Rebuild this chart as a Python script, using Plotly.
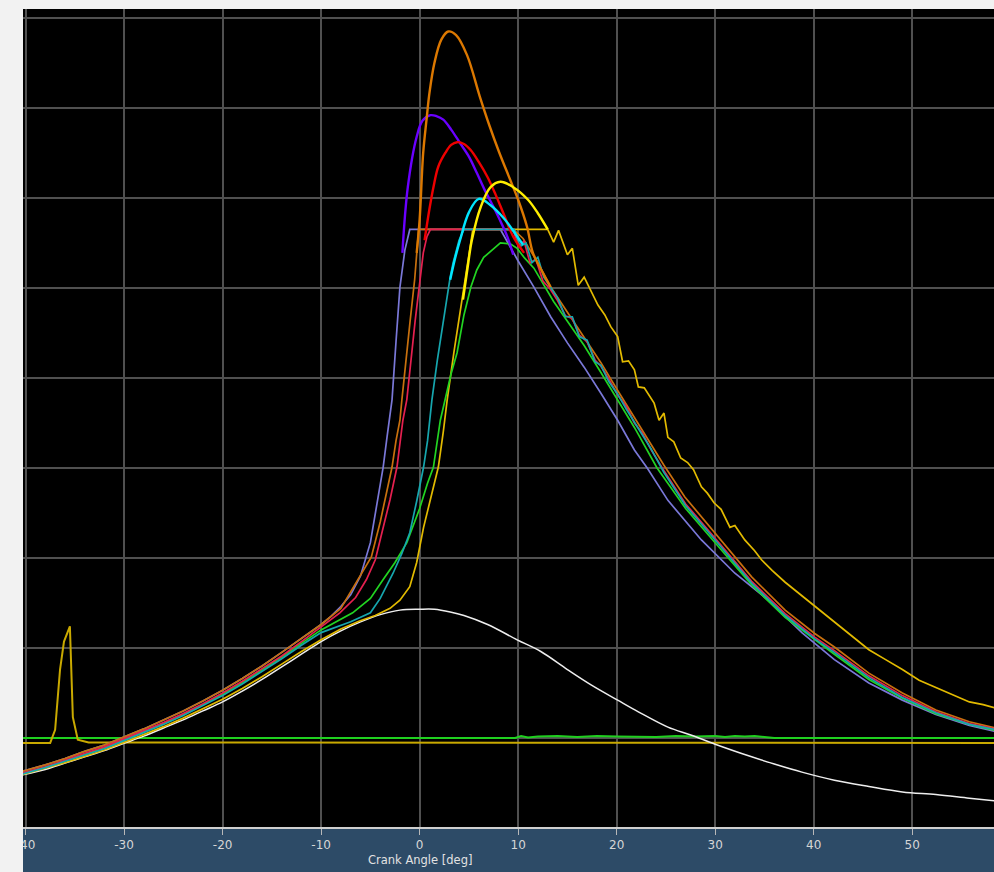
import plotly.graph_objects as go

# ---------------- data (crank angle [deg], pressure [grid units]) ----------------
comp_angle = [-40.3, -38, -36, -34, -32, -30, -28, -26, -24, -22, -20, -18, -16, -14, -12]
clip_level = 66.5

lav_comp = [6.3, 7.0, 7.7, 8.5, 9.2, 10.1, 11.0, 12.0, 13.0, 14.1, 15.3, 16.6, 18.0, 19.5, 21.0]
lav_rise_angle = [-10, -9, -8, -7, -6, -5, -4.4, -3.7, -3.3, -2.8, -2.4, -2.0, -1.5, -1.0]
lav_rise = [22.6, 23.5, 24.6, 25.9, 28.0, 31.7, 35.5, 40.1, 43.5, 47.6, 54.0, 60.1, 64.2, 66.5]
lav_fall_angle = [8.2, 9.0, 10.0, 11.6, 13.3, 15.0, 16.7, 18.4, 20.1, 21.8, 23.1, 25.2, 28.6, 32.0,
                  35.4, 38.8, 42.1, 45.6, 49.0, 52.4, 55.8, 58.5]
lav_fall = [66.5, 64.9, 63.0, 60.1, 56.8, 53.9, 51.2, 48.3, 45.3, 42.0, 40.0, 36.4, 32.0, 28.3,
            25.3, 21.7, 18.7, 16.1, 14.2, 12.6, 11.4, 10.7]

org_comp = [6.3, 7.0, 7.7, 8.5, 9.2, 10.1, 11.0, 12.0, 13.0, 14.1, 15.3, 16.6, 18.0, 19.5, 21.0]
org_rise_angle = [-10, -8, -6.8, -5.8, -4.9, -4.0, -2.8, -2.4, -2.0, -1.8, -1.4, -0.96, -0.5, -0.3, -0.1]
org_rise = [22.6, 24.4, 26.6, 28.3, 30.1, 34.0, 40.1, 43.0, 45.3, 47.6, 52.0, 56.4, 61.0, 63.9, 66.5]
org_fall_angle = [9.5, 10.5, 12.0, 13.3, 15.0, 16.7, 18.4, 20.1, 21.8, 23.5, 24.8, 26.9, 30.3, 33.7,
                  37.1, 40.1, 42.1, 45.6, 49.0, 52.4, 55.8, 58.5]
org_fall = [66.5, 65.5, 62.8, 60.1, 57.3, 54.5, 51.7, 48.6, 45.6, 42.5, 40.3, 36.8, 32.3, 27.9,
            24.2, 21.6, 20.1, 17.2, 15.0, 13.1, 11.8, 11.1]

crm_comp = [6.1, 6.8, 7.5, 8.3, 9.0, 9.9, 10.8, 11.7, 12.7, 13.8, 15.0, 16.3, 17.7, 19.1, 20.7]
crm_rise_angle = [-10, -8.1, -6.5, -5.4, -4.5, -3.8, -3.0, -2.3, -1.7, -1.3, -0.9, -0.45, 0.0, 0.37, 0.74, 1.1]
crm_rise = [22.3, 23.9, 25.6, 27.6, 29.8, 32.8, 36.5, 40.1, 45.3, 47.6, 52.0, 56.4, 60.5, 63.9, 65.7, 66.5]
crm_fall_angle = [9.5, 10.0, 10.6, 11.2, 11.8, 12.5, 13.3, 14.0, 14.8, 15.5, 16.2, 17.0, 17.8, 18.4, 19.2,
                  20.1, 21.0, 21.8, 22.6, 23.5, 24.8, 27.0, 30.3, 33.7, 37.1, 40.1, 42.1, 45.6,
                  49.0, 52.4, 55.8, 58.5]
crm_fall = [66.5, 64.6, 65.2, 62.8, 63.2, 60.8, 59.8, 58.6, 56.9, 56.6, 54.8, 54.0, 52.0, 51.3, 49.9,
            48.1, 46.8, 45.0, 43.9, 42.0, 39.7, 36.0, 31.8, 27.4, 23.8, 21.2, 19.7, 16.9,
            14.7, 12.9, 11.6, 11.0]

tea_comp = [6.0, 6.7, 7.4, 8.1, 8.8, 9.7, 10.6, 11.5, 12.5, 13.6, 14.7, 16.0, 17.4, 18.8, 20.3]
tea_rise_angle = [-10, -7, -5.0, -4.0, -2.7, -1.8, -1.0, -0.3, 0.4, 0.8, 1.25, 1.8, 2.4, 3.1, 3.4, 4.0, 4.5]
tea_rise = [21.7, 22.9, 23.9, 25.5, 28.3, 30.5, 32.8, 36.3, 40.1, 43.0, 47.6, 52.0, 56.4, 61.2, 62.8, 65.3, 66.5]
tea_fall_angle = [9.6, 10.2, 10.8, 11.4, 12.0, 12.6, 13.3, 14.0, 14.8, 15.5, 16.2, 17.0, 17.8, 18.4, 19.2,
                  20.1, 21.0, 21.8, 22.6, 23.5, 24.8, 27.0, 30.3, 33.7, 37.1, 40.1, 42.1, 45.6,
                  49.0, 52.4, 55.8, 58.5]
tea_fall = [66.5, 64.6, 65.0, 62.8, 63.4, 61.2, 60.0, 58.9, 56.8, 56.8, 54.6, 54.2, 51.8, 51.4, 49.6,
            48.2, 46.5, 45.1, 43.6, 42.1, 39.5, 35.8, 31.6, 27.2, 23.6, 21.0, 19.5, 16.7,
            14.5, 12.8, 11.5, 10.9]

grn_comp = [6.05, 6.75, 7.45, 8.2, 8.9, 9.8, 10.7, 11.6, 12.6, 13.7, 14.85, 16.15, 17.55, 19.0, 20.5]
grn_rise_angle = [-10, -6.8, -5.0, -3.7, -2.5, -1.3, 0.0, 0.8, 1.4, 2.1, 2.6, 3.2, 3.8, 4.5, 5.2, 5.8,
                  6.5, 7.5, 8.2, 9.2, 9.9, 10.6, 11.6, 12.3, 13.6]
grn_rise = [22.0, 23.9, 25.5, 27.6, 29.5, 31.7, 35.5, 38.3, 40.1, 45.3, 47.6, 50.5, 52.8, 57.0, 60.1, 62.0,
            63.4, 64.4, 65.0, 64.9, 64.4, 63.4, 62.2, 60.9, 58.5]
grn_fall_angle = [15.0, 16.7, 18.4, 20.1, 21.8, 24.1, 27.0, 30.3, 33.7, 37.1, 40.1, 42.1, 45.6,
                  49.0, 52.4, 55.8, 58.5]
grn_fall = [56.3, 53.6, 50.6, 47.6, 44.5, 40.0, 35.5, 31.3, 27.0, 23.4, 20.9, 19.3, 16.5,
            14.4, 12.7, 11.5, 10.8]

gld_comp = [5.95, 6.6, 7.25, 7.95, 8.65, 9.5, 10.35, 11.25, 12.2, 13.25, 14.3, 15.5, 16.8, 18.2, 19.6]
gld_rise_angle = [-10, -8, -6.1, -4.5, -3.0, -2.0, -1.0, -0.3, 0.4, 1.2, 1.9, 2.4, 2.8, 3.5, 4.2, 4.8, 5.4]
gld_rise = [20.9, 22.1, 23.0, 23.6, 24.4, 25.3, 26.8, 29.5, 33.4, 37.0, 40.1, 44.0, 47.6, 53.0, 58.0, 62.0, 66.5]
gld_fall_angle = [13.0, 13.6, 14.1, 15.0, 15.5, 16.1, 16.7, 17.4, 18.1, 18.8, 19.4, 20.1, 20.6, 21.2, 21.8,
                  22.2, 22.8, 23.8, 24.3, 24.8, 25.2, 25.8, 26.5, 27.2, 27.8, 28.6, 29.2, 29.9,
                  30.6, 31.5, 32.0, 33.0, 34.0, 34.7, 35.8, 37.1, 38.8, 40.1, 42.1, 43.9, 45.6,
                  47.3, 49.0, 50.7, 52.4, 54.1, 55.8, 57.2, 58.5]
gld_fall = [66.5, 65.1, 66.4, 63.7, 64.4, 60.3, 61.2, 59.6, 58.1, 57.0, 55.7, 54.6, 51.8, 51.9, 50.9,
            49.0, 48.9, 47.2, 45.3, 46.1, 43.4, 42.9, 41.1, 40.6, 39.8, 37.9, 37.2, 36.1,
            35.4, 33.4, 33.6, 32.0, 30.8, 29.8, 28.6, 27.3, 25.8, 24.6, 22.8, 21.2, 19.8,
            18.7, 17.6, 16.4, 15.6, 14.8, 14.0, 13.7, 13.3]

motored_angle = [-40.3, -38, -36, -34, -32, -30, -28, -26, -24, -22, -20, -18, -16, -14, -12, -10, -8, -6,
                 -4, -2, 0, 1.5, 3.1, 4.5, 6.9, 9.9, 12.3, 15.0, 17.4, 20.1, 22.2, 25.2, 27.6, 30.0,
                 33.7, 36.0, 38.8, 42.1, 45.6, 49.0, 52.4, 55.8, 58.5]
motored_p = [5.9, 6.5, 7.2, 7.9, 8.6, 9.4, 10.2, 11.1, 12.0, 13.0, 14.0, 15.2, 16.5, 17.9, 19.3, 20.7, 21.9, 22.9,
             23.7, 24.2, 24.3, 24.3, 24.0, 23.6, 22.6, 20.9, 19.6, 17.6, 15.9, 14.2, 12.9, 11.2, 10.3, 9.3,
             7.9, 7.1, 6.2, 5.3, 4.6, 4.0, 3.7, 3.3, 3.0]

# peak arcs
purple_angle = [-1.75, -1.2, -0.3, 0.3, 1.1, 1.7, 2.4, 3.2, 4.1, 5.0, 5.8, 6.6, 7.5, 8.3, 8.9, 9.5]
purple_p = [63.9, 71.2, 76.8, 78.6, 79.2, 79.1, 78.7, 77.6, 76.1, 74.6, 72.8, 70.9, 69.0, 67.2, 65.7, 63.7]
orange_arc_angle = [-0.3, 0.0, 0.36, 0.7, 1.0, 1.5, 2.2, 2.9, 3.7, 4.8, 6.1, 7.1, 8.1, 9.2, 10.0, 10.9,
                    11.5, 12.5, 13.3]
orange_arc_p = [63.9, 67.6, 75.0, 78.7, 81.7, 85.0, 87.6, 88.5, 88.1, 85.9, 81.3, 78.0, 75.0, 72.0, 69.8,
                66.8, 63.9, 61.7, 60.1]
red_arc_angle = [0.5, 1.0, 1.4, 1.9, 2.6, 3.2, 3.8, 4.5, 5.2, 6.0, 6.9, 7.7, 8.5, 9.5, 10.6]
red_arc_p = [65.3, 68.8, 71.2, 73.5, 75.0, 75.9, 76.2, 76.0, 75.3, 74.0, 72.3, 70.4, 68.3, 65.7, 63.9]
cyan_arc_angle = [3.1, 3.6, 4.1, 5.0, 6.0, 7.2, 8.5, 9.6, 10.5]
cyan_arc_p = [60.9, 63.3, 65.3, 68.4, 69.9, 69.2, 67.8, 66.2, 64.8]
yellow_arc_angle = [4.4, 4.9, 5.3, 6.2, 7.2, 8.2, 9.5, 11.0, 12.0, 13.0]
yellow_arc_p = [58.7, 62.5, 65.3, 69.0, 71.2, 71.8, 71.2, 69.8, 68.3, 66.5]

# baselines
green_base_angle = [-40.3, 9.7, 10.3, 11.0, 12.0, 13.0, 14.0, 16.0, 18.0, 20.0, 22.0, 24.0, 26.0, 28.0,
                    30.0, 31.0, 32.0, 33.0, 34.0, 35.2, 36.0, 58.3]
green_base_p = [10.0, 10.0, 10.2, 10.05, 10.15, 10.2, 10.2, 10.1, 10.2, 10.15, 10.1, 10.1, 10.2, 10.15,
                10.2, 10.1, 10.2, 10.15, 10.2, 10.1, 10.0, 10.0]
yellow_base_angle = [-40.3, -37.5, -37.0, -36.5, -36.1, -35.5, -35.2, -34.7, -33.6, 58.3]
yellow_base_p = [9.44, 9.44, 10.9, 17.6, 20.7, 22.4, 12.3, 9.8, 9.5, 9.44]

tick_values = [-40, -30, -20, -10, 0, 10, 20, 30, 40, 50]
tick_labels = ["-40", "-30", "-20", "-10", "0", "10", "20", "30", "40", "50"]
x_title = "Crank Angle [deg]"
x_title_angle = 0

# ---------------- figure ----------------
fig = go.Figure()


def add(x, y, color, width, shape="linear"):
    fig.add_trace(go.Scatter(x=x, y=y, mode="lines", line=dict(color=color, width=width, shape=shape),
                             hoverinfo="skip", showlegend=False))


add(green_base_angle, green_base_p, "#1fd01f", 2)
add(yellow_base_angle, yellow_base_p, "#c9a900", 2)
add(motored_angle, motored_p, "#eeeeee", 1.5, "spline")

add(comp_angle + gld_rise_angle + gld_fall_angle, gld_comp + gld_rise + gld_fall, "#e2ba00", 1.7)
add(comp_angle + lav_rise_angle + lav_fall_angle, lav_comp + lav_rise + lav_fall, "#7a78d8", 1.7)
add(comp_angle + grn_rise_angle + grn_fall_angle, grn_comp + grn_rise + grn_fall, "#22d422", 1.7)
add(comp_angle + org_rise_angle + org_fall_angle, org_comp + org_rise + org_fall, "#c8700e", 1.7)
add(comp_angle + crm_rise_angle + crm_fall_angle, crm_comp + crm_rise + crm_fall, "#e5204f", 1.7)
add(comp_angle + tea_rise_angle + tea_fall_angle, tea_comp + tea_rise + tea_fall, "#16a6ae", 1.7)

add(purple_angle, purple_p, "#6a00ff", 2.4, "spline")
add(orange_arc_angle, orange_arc_p, "#dc7800", 2.4, "spline")
add(red_arc_angle, red_arc_p, "#ee0000", 2.4, "spline")
add(cyan_arc_angle, cyan_arc_p, "#00e6ff", 2.4, "spline")
add(yellow_arc_angle, yellow_arc_p, "#ffee00", 2.4, "spline")

W, H = 994, 872
ml, mr, mt, mb = 23, 0, 9, 45
pw, ph = W - ml - mr, H - mt - mb

fig.update_layout(
    width=W, height=H,
    margin=dict(l=ml, r=mr, t=mt, b=mb, pad=0),
    paper_bgcolor="#f2f2f2",
    plot_bgcolor="#000000",
    font=dict(family="DejaVu Sans, Liberation Sans, Arial, sans-serif"),
    showlegend=False,
    shapes=[
        dict(type="rect", xref="paper", yref="paper", x0=0, x1=1, y0=-mb / ph, y1=0,
             fillcolor="#2d4b67", line=dict(width=0), layer="below"),
        dict(type="rect", xref="paper", yref="paper", x0=-ml / pw, x1=-0.0001, y0=-mb / ph - 0.01, y1=0,
             fillcolor="#f2f2f2", line=dict(width=0), layer="above"),
    ],
    annotations=[
        dict(text=x_title, x=x_title_angle, xref="x", y=-33 / ph, yref="paper",
             xanchor="center", yanchor="middle", showarrow=False,
             font=dict(size=11.5, color="#e2e2e2")),
    ],
)
fig.update_xaxes(
    range=[-40.26, 58.3], tickvals=tick_values, ticktext=tick_labels,
    showgrid=True, gridcolor="#505050", gridwidth=1.6, zeroline=False,
    ticks="outside", ticklen=6, tickwidth=1, tickcolor="#b8b8b8",
    tickfont=dict(size=12, color="#d6d6d6"),
    showline=True, linecolor="#cfcfcf", linewidth=2,
)
fig.update_yaxes(
    range=[0.1, 91.0], dtick=10, tick0=0,
    showgrid=True, gridcolor="#505050", gridwidth=1.6, zeroline=False,
    showticklabels=False, ticks="", showline=False,
)

fig.write_html("out.html", config={"displayModeBar": False},
               post_script="document.body.style.margin='0';document.body.style.overflow='hidden';")
